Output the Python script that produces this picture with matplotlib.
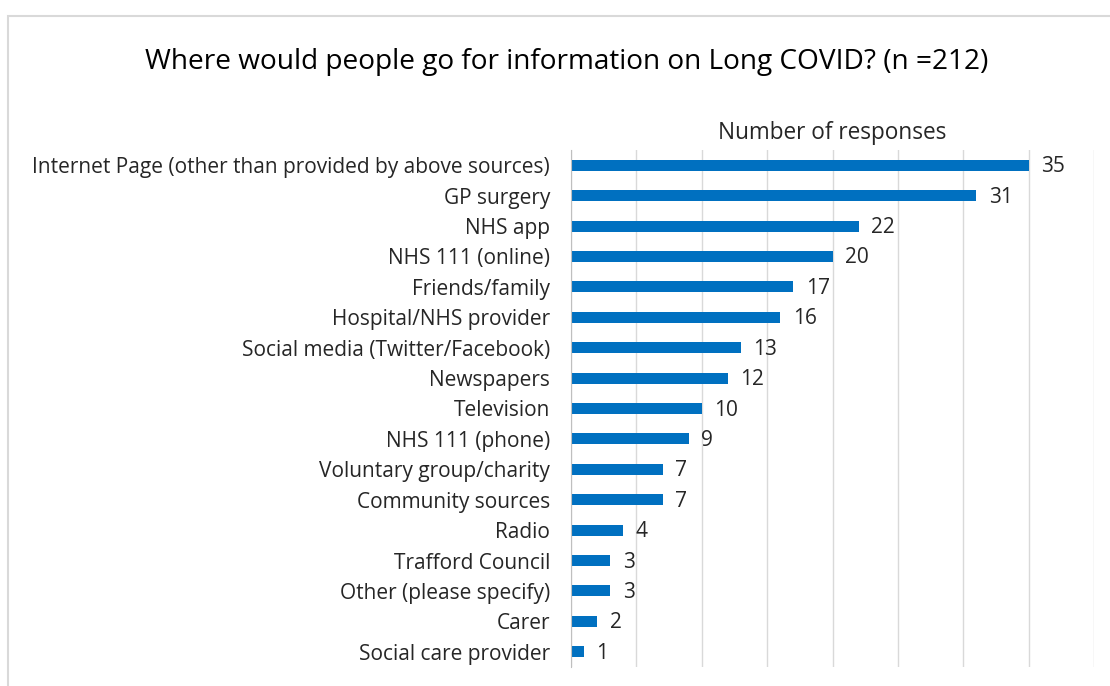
import matplotlib.pyplot as plt
from matplotlib.patches import Rectangle

sources = ['Internet Page (other than provided by above sources)', 'GP surgery', 'NHS app',
           'NHS 111 (online)', 'Friends/family', 'Hospital/NHS provider',
           'Social media (Twitter/Facebook)', 'Newspapers', 'Television', 'NHS 111 (phone)',
           'Voluntary group/charity', 'Community sources', 'Radio', 'Trafford Council',
           'Other (please specify)', 'Carer', 'Social care provider']
responses = [35, 31, 22, 20, 17, 16, 13, 12, 10, 9, 7, 7, 4, 3, 3, 2, 1]

plt.rcParams['font.family'] = ['Open Sans', 'DejaVu Sans']

fig = plt.figure(figsize=(11.1, 6.86), dpi=100)
fig.patches.append(Rectangle((8 / 1110, -0.1), 1.2, 1 - 16 / 686 + 0.1, transform=fig.transFigure,
                             fill=False, edgecolor='#d9d9d9', linewidth=1.5))
ax = fig.add_axes([571 / 1110, 19 / 686, 523 / 1110, 517 / 686])

y = list(range(len(sources)))
ax.barh(y, responses, height=0.36, color='#0070C0', zorder=3)
for yi, v in zip(y, responses):
    ax.text(v + 0.95, yi + 0.05, str(v), va='center', ha='left', fontsize=15, color='#262626')

ax.set_xlim(0, 40)
ax.set_ylim(len(sources) - 0.5, -0.5)
ax.set_yticks(y)
ax.set_yticklabels(sources, fontsize=15, color='#262626')
ax.set_xticks(range(0, 41, 5))
ax.tick_params(axis='x', which='both', bottom=False, labelbottom=False)
ax.tick_params(axis='y', length=0, pad=15)
ax.grid(axis='x', color='#d9d9d9', linewidth=1, zorder=0)
for s in ['top', 'right', 'bottom']:
    ax.spines[s].set_visible(False)
ax.spines['left'].set_color('#bfbfbf')
ax.spines['left'].set_zorder(4)

ax.set_xlabel('Number of responses', fontsize=16.3, color='#262626', labelpad=8)
ax.xaxis.set_label_position('top')

fig.text(567 / 1110, 1 - 62 / 686, 'Where would people go for information on Long COVID? (n =212)',
         ha='center', va='center', fontsize=20.2, color='#000000')

fig.savefig('out.png', dpi=100)
